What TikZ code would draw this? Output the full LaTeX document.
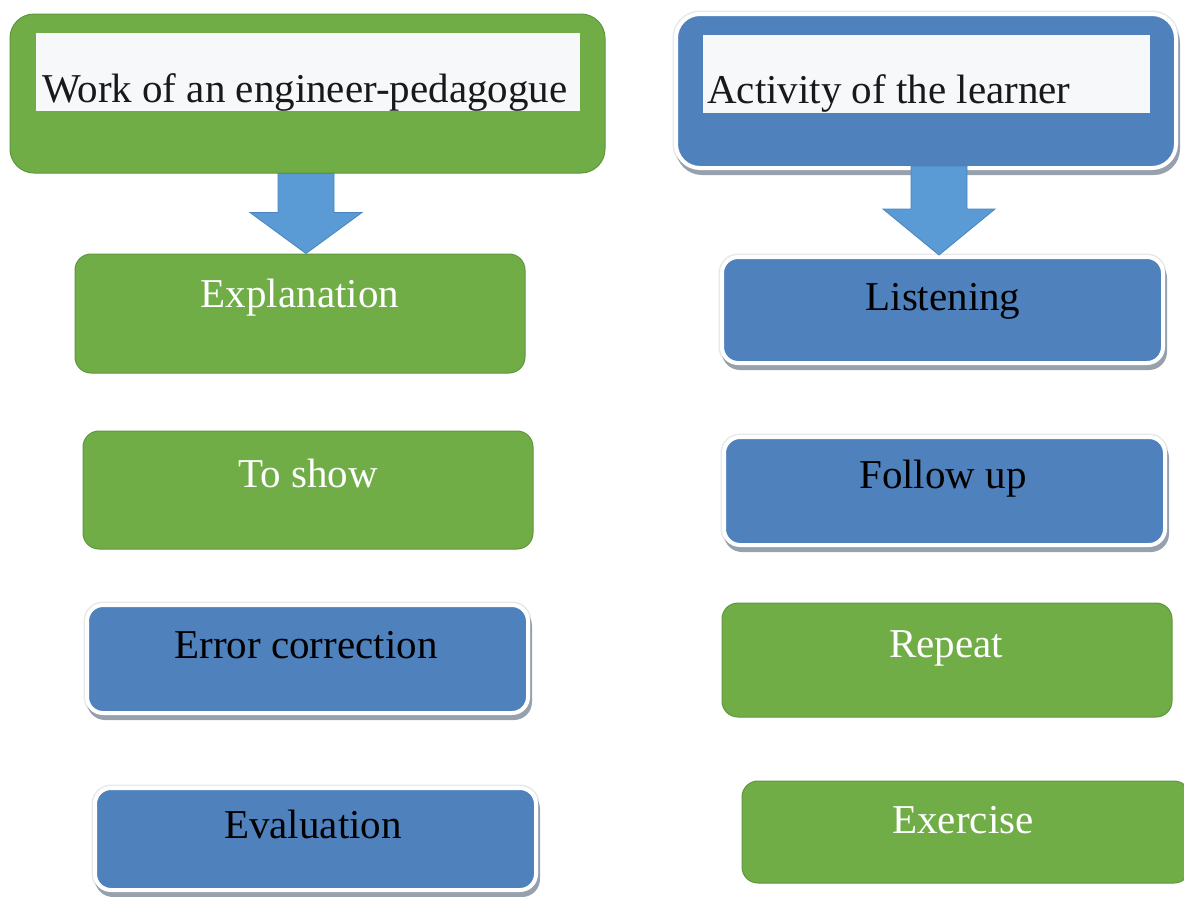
\documentclass[tikz,border=0pt]{standalone}
\usepackage{fontspec}
\setmainfont{Liberation Serif}
\usetikzlibrary{shadows,calc}

\definecolor{boxgreen}{HTML}{70AD47}
\definecolor{greenedge}{HTML}{5E963B}
\definecolor{boxblue}{HTML}{4F81BD}
\definecolor{arrowblue}{HTML}{5B9BD5}
\definecolor{arrowedge}{HTML}{4A84BE}
\definecolor{shadowgray}{HTML}{97A1AE}
\definecolor{halo}{HTML}{E6E8EB}
\definecolor{paper}{HTML}{F7F8FA}

\begin{document}
\begin{tikzpicture}[x=1pt,y=-1pt,
  greenbox/.style={rectangle, rounded corners=16pt, fill=boxgreen,
    draw=greenedge, line width=1pt, inner sep=0pt},
  bluebox/.style={rectangle, rounded corners=16pt, fill=boxblue,
    preaction={draw=halo, line width=7pt},
    drop shadow={shadow xshift=2pt, shadow yshift=-5pt,
      fill=shadowgray, draw=shadowgray, line width=4pt, opacity=1},
    draw=white, line width=4pt, inner sep=0pt},
  titlebar/.style={rectangle, fill=paper, inner sep=0pt},
  label/.style={inner sep=0pt, anchor=base, font=\fontsize{41}{49}\selectfont},
  onGreen/.style={label, text=white},
  onBlue/.style={label, text=black},
  blockarrow/.style={fill=arrowblue, draw=arrowedge, line width=0.8pt, line join=miter}
]
\useasboundingbox (0,0) rectangle (1184,897);

% ---- left column: the engineer-pedagogue ----
\node[greenbox, rounded corners=24pt, minimum width=595pt, minimum height=159pt] (work) at (307.5,93.5) {};
\node[titlebar, minimum width=544pt, minimum height=78pt] (workbar) at (308,72) {};
\node[label, anchor=base west, text=black!90] (worktext) at (42,102) {Work of an engineer-pedagogue};

\node[greenbox, minimum width=450pt, minimum height=119pt] (explain) at (300,313.5) {};
\node[onGreen] (explaintext) at (300,307) {Explanation};

\node[greenbox, minimum width=450pt, minimum height=118pt] (show) at (308,490) {};
\node[onGreen] (showtext) at (308,487) {To show};

\node[bluebox, minimum width=441pt, minimum height=108pt] (errcorr) at (307.5,659) {};
\node[onBlue] (errcorrtext) at (306,658) {Error correction};

\node[bluebox, minimum width=441pt, minimum height=102pt] (evaluation) at (315.5,839) {};
\node[onBlue] (evaluationtext) at (313,838) {Evaluation};

% ---- right column: the learner ----
\node[bluebox, rounded corners=24pt, minimum width=500pt, minimum height=154pt] (activity) at (926,91) {};
\node[titlebar, minimum width=447pt, minimum height=78pt] (activitybar) at (926.5,74) {};
\node[label, anchor=base west, text=black!90] (activitytext) at (707,103) {Activity of the learner};

\node[bluebox, minimum width=441pt, minimum height=106pt] (listen) at (942.5,310) {};
\node[onBlue] (listentext) at (943,310) {Listening};

\node[bluebox, minimum width=441pt, minimum height=108pt] (follow) at (944.5,491) {};
\node[onBlue] (followtext) at (943,488) {Follow up};

\node[greenbox, minimum width=450pt, minimum height=114pt] (repeat) at (947,660) {};
\node[onGreen] (repeattext) at (946,657) {Repeat};

\node[greenbox, minimum width=448pt, minimum height=102pt] (exercise) at (966,832) {};
\node[onGreen] (exercisetext) at (963,833) {Exercise};

% ---- block arrows from each heading to its first step ----
\coordinate (la-top) at (work.south -| 306,0);
\coordinate (la-tip) at (explain.north -| 306,0);
\draw[blockarrow] ($(la-top)+(-28,0)$) -- ($(la-top)+(28,0)$) -- ($(la-tip)+(28,-41)$)
  -- ($(la-tip)+(56,-41)$) -- (la-tip) -- ($(la-tip)+(-56,-41)$) -- ($(la-tip)+(-28,-41)$) -- cycle;

\coordinate (ra-top) at (939,166);
\coordinate (ra-tip) at (listen.north -| 939,0);
\draw[blockarrow] ($(ra-top)+(-28,0)$) -- ($(ra-top)+(28,0)$) -- ($(ra-tip)+(28,-46)$)
  -- ($(ra-tip)+(56,-46)$) -- (ra-tip) -- ($(ra-tip)+(-56,-46)$) -- ($(ra-tip)+(-28,-46)$) -- cycle;
\end{tikzpicture}
\end{document}
